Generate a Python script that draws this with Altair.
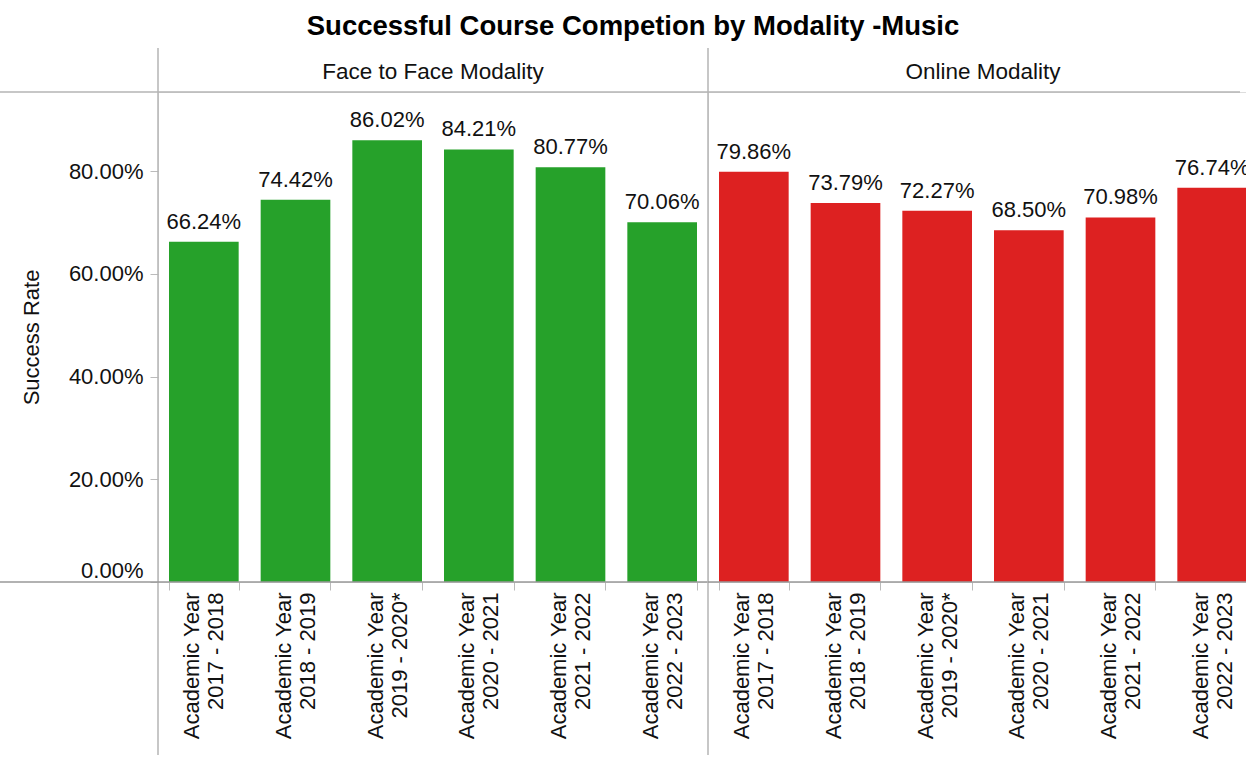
import altair as alt
import pandas as pd

years = ["2017 - 2018", "2018 - 2019", "2019 - 2020*", "2020 - 2021", "2021 - 2022", "2022 - 2023"]
f2f_rates = [0.6624, 0.7442, 0.8602, 0.8421, 0.8077, 0.7006]
online_rates = [0.7986, 0.7379, 0.7227, 0.6850, 0.7098, 0.7674]
modalities = ["Face to Face Modality", "Online Modality"]
colors = ["#26a12a", "#dd2121"]
y_ticks = [0, 0.2, 0.4, 0.6, 0.8]

FONT = "Liberation Sans"
H = 490
YMAX = 0.954
LINE = "#b4b4b4"


def panel(title, rates, color, first, W):
    df = pd.DataFrame({"year": years, "rate": rates})
    x = alt.X(
        "year:N", sort=years, title=None,
        scale=alt.Scale(paddingInner=0.24, paddingOuter=0.12),
        axis=alt.Axis(labelAngle=270, labelAlign="right", labelBaseline="middle",
                      labelExpr="datum.label ? ['Academic Year', datum.label] : ''",
                      labelFontSize=22, labelFont=FONT, labelColor="#111",
                      labelLineHeight=24, labelOffset=-12, tickBand="extent", tickSize=8,
                      tickColor="#bbbbbb", labelPadding=2, domain=False),
    )
    if first:
        yaxis = alt.Axis(format=".2%", values=y_ticks, title="Success Rate",
                         titleFontSize=22, titleFontWeight="normal", titleFont=FONT,
                         titleColor="#111", titlePadding=25, labelFontSize=22,
                         labelFont=FONT, labelColor="#111", tickSize=8, labelFlush=True,
                         tickColor="#bbbbbb", labelPadding=7, domain=False, grid=False)
    else:
        yaxis = None
    y = alt.Y("rate:Q", scale=alt.Scale(domain=[0, YMAX], nice=False, zero=True), axis=yaxis)

    base = alt.Chart(df)
    bars = base.mark_bar(color=color).encode(x=x, y=y)
    labels = base.mark_text(baseline="bottom", dy=-8, fontSize=22, font=FONT, color="#111").encode(
        x=alt.X("year:N", sort=years), y=alt.Y("rate:Q"),
        text=alt.Text("rate:Q", format=".2%"),
    )
    one = alt.Chart(pd.DataFrame({"k": [0]}))
    left = -158 if first else 0
    vline = one.mark_rule(color=LINE, strokeWidth=1.5).encode(
        x=alt.value(0), y=alt.value(-44), y2=alt.value(663))
    topline = one.mark_rule(color=LINE, strokeWidth=1.5).encode(
        y=alt.value(0), x=alt.value(left), x2=alt.value(W - (0 if first else 18)))
    baseline = one.mark_rule(color="#999999", strokeWidth=1.5).encode(
        y=alt.value(H), x=alt.value(left), x2=alt.value(W))
    return alt.layer(bars, labels, vline, topline, baseline).properties(
        width=W, height=H,
        title=alt.TitleParams(title, fontSize=22.5, font=FONT, fontWeight="normal",
                              color="#111", offset=-36, anchor="middle"),
    )


p1 = panel(modalities[0], f2f_rates, colors[0], True, 550)
p2 = panel(modalities[1], online_rates, colors[1], False, 550)

chart = alt.hconcat(p1, p2, spacing=0, bounds="flush").properties(
    title=alt.TitleParams("Successful Course Competion by Modality -Music", fontSize=27.5,
                          font=FONT, fontWeight="bold", color="#000", anchor="middle",
                          offset=6, dx=4),
    padding={"left": -2, "top": 13, "right": -14, "bottom": 0},
).configure_view(stroke=None).configure(background="white")

chart.save("out.html", embed_options={"renderer": "svg", "actions": False})
